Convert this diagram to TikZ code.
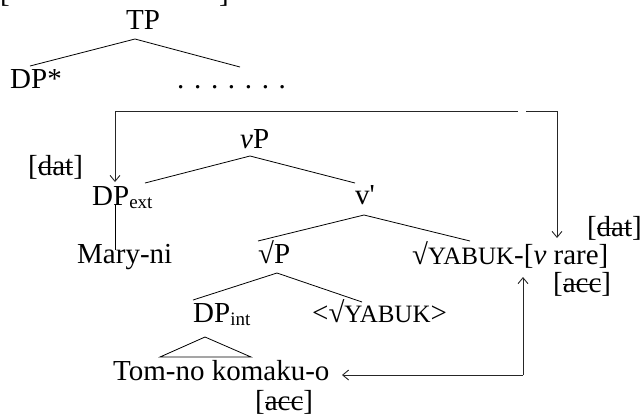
\documentclass[tikz,border=0pt]{standalone}
\usepackage{fontspec}
\setmainfont{Liberation Serif}[Ligatures=TeXOff]
\usetikzlibrary{arrows.meta}
\newcommand\strk[1]{\leavevmode\setbox0\hbox{#1}\rlap{\rule[7pt]{\wd0}{1.1pt}}\box0}
\newcommand\sml[1]{{\fontsize{25}{28}\selectfont #1}}
\newcommand\sbs[1]{\raisebox{-3pt}{\fontsize{19}{22}\selectfont #1}}
\begin{document}
\begin{tikzpicture}[x=1pt,y=-1pt,
 lbl/.style={inner sep=0pt, anchor=base west, font=\fontsize{29}{34}\selectfont},
 edge/.style={line width=0.8pt},
 conn/.style={line width=1pt, black!85},
 arr/.style={conn, -{Straight Barb[length=6pt,width=10pt,line width=0.9pt]}}
]
\useasboundingbox (0,0) rectangle (643,416);
% labels
\node[lbl] (brL) at (0,2) {[};
\node[lbl, anchor=base east] (brR) at (229,2) {]};
\node[lbl] (TP) at (126,29) {TP};
\node[lbl] (DPstar) at (10,88) {DP*};
\node[lbl] (dots) at (177,88) {. . . . . . .};
\node[lbl] (datL) at (28,175) {[\strk{dat}]};
\node[lbl] (vP) at (240,148) {\textit{v}P};
\node[lbl] (DPext) at (92,205) {DP\sbs{ext}};
\node[lbl] (vbar) at (355,204) {v'};
\node[lbl] (MaryNi) at (77,263) {Mary-ni};
\node[lbl] (rootP) at (258,263) {√P};
\node[lbl] (verb) at (412,264) {√\sml{YABUK}-[\textit{v} rare]};
\node[lbl, anchor=base east] (datR) at (642,236) {[\strk{dat}]};
\node[lbl] (accR) at (553,292) {[\strk{acc}]};
\node[lbl] (DPint) at (193,322) {DP\sbs{int}};
\node[lbl] (trace) at (312,322) {<√\sml{YABUK}>};
\node[lbl] (tom) at (113,380) {Tom-no komaku-o};
\node[lbl] (accB) at (255,410) {[\strk{acc}]};
% tree coordinates
\coordinate (tpA) at (135,39);
\coordinate (tpL) at (30,66);
\coordinate (tpR) at (240,67);
\coordinate (vpA) at (250,156);
\coordinate (vpL) at (145,183);
\coordinate (vpR) at (355,183);
\coordinate (vbA) at (364,215);
\coordinate (vbL) at (258,241);
\coordinate (vbR) at (470,241);
\coordinate (rpA) at (277,273);
\coordinate (rpL) at (193,300);
\coordinate (rpR) at (362,302);
\coordinate (dxT) at (115,205);
\coordinate (dxB) at (115,250);
\coordinate (trA) at (205,337);
\coordinate (trL) at (160,357);
\coordinate (trR) at (251,357);
\draw[edge] (tpL) -- (tpA) -- (tpR);
\draw[edge] (vpL) -- (vpA) -- (vpR);
\draw[edge] (vbL) -- (vbA) -- (vbR);
\draw[edge] (rpL) -- (rpA) -- (rpR);
\draw[edge] (dxT) -- (dxB);
\draw[edge] (trL) -- (trA) -- (trR) -- cycle;
% movement connectors
\coordinate (cL) at (115,111);
\coordinate (cR) at (557,111);
\coordinate (gL) at (518,111);
\coordinate (gR) at (526,111);
\coordinate (tL) at (115,182);
\coordinate (tR) at (557,238);
\draw[conn] (cL) -- (gL);
\draw[conn] (gR) -- (cR);
\draw[arr] (cL) -- (tL);
\draw[arr] (cR) -- (tR);
\coordinate (cB) at (523,375);
\coordinate (tU) at (523,277);
\coordinate (tT) at (342,375);
\draw[arr] (cB) -- (tU);
\draw[arr] (cB) -- (tT);
\end{tikzpicture}
\end{document}
